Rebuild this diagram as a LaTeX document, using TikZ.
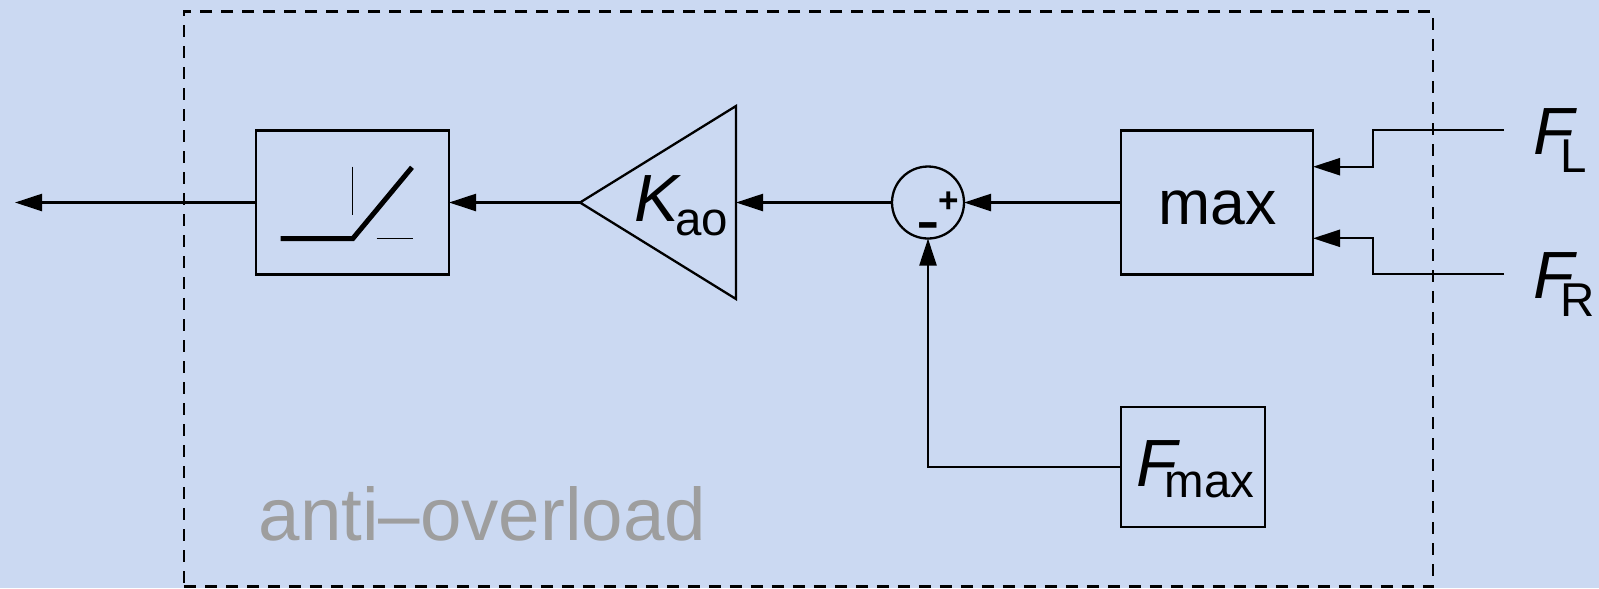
\documentclass[tikz,border=0pt]{standalone}
\usepackage{fontspec}
\setmainfont{Liberation Sans}
\usetikzlibrary{arrows.meta,positioning,shapes.geometric}
\definecolor{panelblue}{HTML}{CBD9F2}
\definecolor{notegray}{HTML}{9E9E9E}
\newcommand{\symlabel}[4]{{\fontsize{19}{20}\selectfont\itshape #1}\kern#4\raisebox{#3}{\fontsize{13.5}{15}\selectfont #2}}

\begin{document}
\begin{tikzpicture}[
    line width=0.023cm,
    blockbox/.style={draw, inner sep=0pt, outer sep=0pt},
    gainbox/.style={draw, isosceles triangle, isosceles triangle stretches, shape border rotate=180, minimum width=1.93cm, minimum height=1.56cm, inner sep=0pt, outer sep=0pt},
    sumnode/.style={draw, circle, minimum size=0.72cm, inner sep=0pt, outer sep=0pt},
    signmark/.style={inner sep=0pt, font=\fontsize{10}{10}\selectfont\bfseries},
    symtext/.style={inner sep=0pt, anchor=base west},
    flow/.style={-{Triangle[length=0.27cm,width=0.17cm]}}
]
\fill[panelblue] (0,0) rectangle (15.99,-5.88);
\useasboundingbox (0,0) rectangle (15.99,-5.88);
\node[draw, dash pattern=on 0.12cm off 0.09cm, minimum width=12.49cm, minimum height=5.75cm, inner sep=0pt, outer sep=0pt] (frame) at (8.085,-2.99) {};
\node[inner sep=0pt, anchor=base west, text=notegray, font=\fontsize{21.2}{22}\selectfont] (title) at (2.575,-5.40) {anti--overload};

\node[blockbox, minimum width=1.93cm, minimum height=1.44cm] (limit) at (3.525,-2.025) {};
\node[gainbox, right=1.31cm of limit] (gain) {};
\node[sumnode, right=1.56cm of gain.lower side, anchor=west] (sum) {};
\node[blockbox, right=1.57cm of sum, minimum width=1.92cm, minimum height=1.44cm] (maxbox) {};
\node[blockbox, minimum width=1.44cm, minimum height=1.2cm] (fmax) at (11.93,-4.67) {};
\node[symtext, font=\fontsize{17.8}{20}\selectfont] (maxtext) at (11.57,-2.245) {max};
\node[symtext] (fmaxtext) at (11.35,-4.86) {\symlabel{F}{max}{-3.4pt}{-3.5pt}};
\node[symtext] (kao) at (6.33,-2.217) {\symlabel{K}{ao}{-3.8pt}{-1pt}};
\node[symtext] (left) at (15.32,-1.54) {\symlabel{F}{L}{-5.4pt}{-3.9pt}};
\node[symtext] (right) at (15.32,-2.98) {\symlabel{F}{R}{-5.4pt}{-3.9pt}};
\node[signmark] (plus) at (9.49,-2.02) {+};
\node[signmark, yscale=1.6] (minus) at (9.283,-2.32) {--};

\coordinate (output) at (0.15,-2.025);
\coordinate (inleft) at (15.04,-1.303);
\coordinate (inright) at (15.04,-2.743);
\draw[flow] (limit.west) -- (output);
\draw[flow] (gain.apex) -- (limit.east);
\draw[flow] (sum.west) -- (gain.lower side);
\draw[flow] (maxbox.west) -- (sum.east);
\draw[flow] (inleft) -- ++(-1.313,0) |- ([yshift=3.58mm]maxbox.east);
\draw[flow] (inright) -- ++(-1.313,0) |- ([yshift=-3.58mm]maxbox.east);
\draw[flow] (fmax.west) -| (sum.south);

% limiter curve
\coordinate (knee) at (3.527,-2.387);
\draw[line width=0.05cm] (2.807,-2.387) -- (knee) -- (4.12,-1.673);
\draw[line width=0.01cm] (3.527,-1.667) -- (3.527,-2.147);
\draw[line width=0.01cm] (3.767,-2.387) -- (4.127,-2.387);
\end{tikzpicture}
\end{document}
